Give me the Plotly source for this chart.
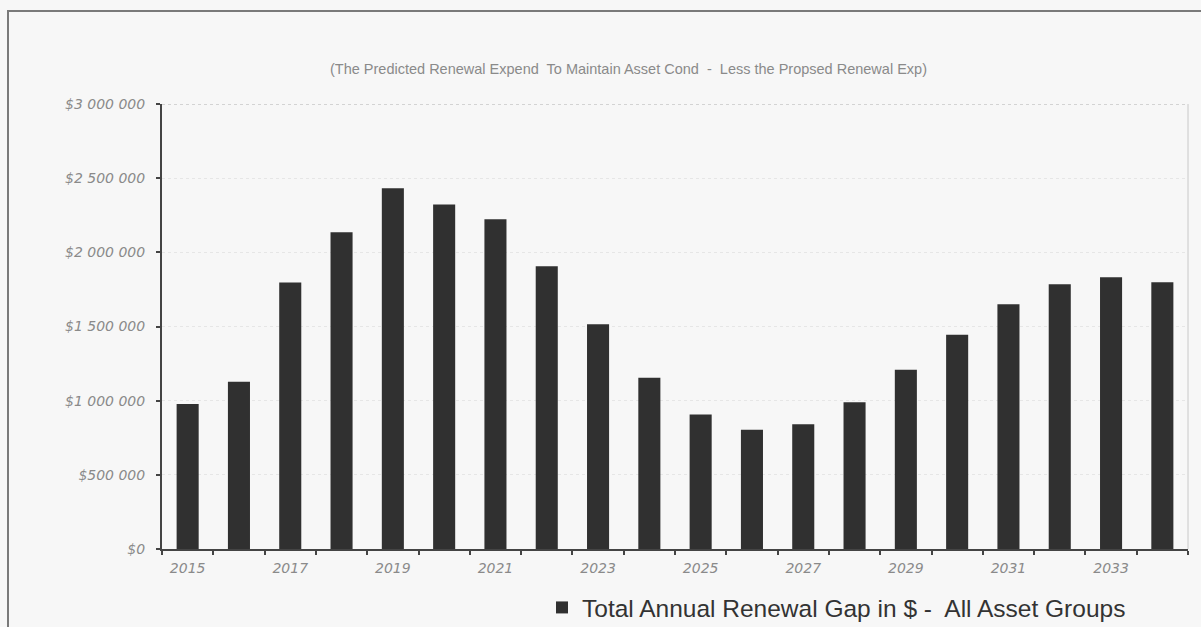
import plotly.graph_objects as go

years = [2015, 2016, 2017, 2018, 2019, 2020, 2021, 2022, 2023, 2024,
         2025, 2026, 2027, 2028, 2029, 2030, 2031, 2032, 2033, 2034]
gap_values = [978000, 1128000, 1796000, 2136000, 2432000, 2322000, 2223000, 1906000, 1515000, 1155000,
              906000, 804000, 841000, 989000, 1209000, 1445000, 1650000, 1784000, 1832000, 1798000]
series_name = "Total Annual Renewal Gap in $ -  All Asset Groups"
subtitle = "(The Predicted Renewal Expend  To Maintain Asset Cond  -  Less the Propsed Renewal Exp)"
y_tick_vals = [0, 500000, 1000000, 1500000, 2000000, 2500000, 3000000]
y_tick_text = ["$0", "$500 000", "$1 000 000", "$1 500 000", "$2 000 000", "$2 500 000", "$3 000 000"]
x_tick_vals = [2015, 2017, 2019, 2021, 2023, 2025, 2027, 2029, 2031, 2033]

W, H = 1201, 627
L, R, T, B = 162, 13, 104, 78
pw, ph = W - L - R, H - T - B

def px_x(px):
    return (px - L) / pw

def px_y(py):
    return (H - B - py) / ph

fig = go.Figure()
fig.add_trace(go.Bar(
    x=years, y=gap_values, name=series_name,
    marker=dict(color="#303030", line=dict(width=0)),
    showlegend=True,
))

tick_font = dict(family="DejaVu Sans", size=14, color="#8a8a8a", style="italic")

fig.update_layout(
    width=W, height=H,
    margin=dict(l=L, r=R, t=T, b=B, autoexpand=False),
    paper_bgcolor="#f7f7f7",
    plot_bgcolor="#f7f7f7",
    bargap=0.57,
    showlegend=True,
    legend=dict(
        orientation="h",
        xref="container", yref="container",
        x=542 / W, xanchor="left",
        y=1 - 585 / H, yanchor="top",
        font=dict(family="Liberation Sans", size=24.5, color="#333333"),
        bgcolor="rgba(0,0,0,0)",
        itemwidth=30,
    ),
    xaxis=dict(
        range=[2014.5, 2034.5],
        tickmode="array", tickvals=x_tick_vals, ticktext=[str(v) for v in x_tick_vals],
        ticks="", tickfont=tick_font, ticklabelstandoff=5,
        showgrid=False, zeroline=False,
        showline=True, linecolor="#444444", linewidth=2,
        minor=dict(tick0=2014.5, dtick=1, ticks="outside", ticklen=4, tickcolor="#444444", tickwidth=2, showgrid=False),
        fixedrange=True,
    ),
    yaxis=dict(
        range=[0, 3000000],
        tickmode="array", tickvals=y_tick_vals, ticktext=y_tick_text,
        ticks="outside", ticklen=4, tickcolor="#444444", tickwidth=2,
        tickfont=tick_font, ticklabelstandoff=8,
        showgrid=True, gridcolor="#e6e6e6", griddash="dot", gridwidth=1,
        zeroline=False,
        showline=True, linecolor="#444444", linewidth=2,
        fixedrange=True,
    ),
    annotations=[dict(
        text=subtitle, xref="paper", yref="paper",
        x=px_x(628), y=px_y(69), xanchor="center", yanchor="middle",
        showarrow=False,
        font=dict(family="Liberation Sans", size=14.5, color="#8a8a8a"),
    )],
    shapes=[
        dict(type="rect", xref="paper", yref="paper",
             x0=px_x(8), x1=px_x(1215), y0=px_y(11), y1=px_y(640),
             line=dict(color="#7a7a7a", width=2), fillcolor="rgba(0,0,0,0)", layer="below"),
        dict(type="line", xref="paper", yref="paper",
             x0=1, x1=1, y0=0, y1=1,
             line=dict(color="#c8c8c8", width=1)),
        dict(type="line", xref="paper", yref="y",
             x0=0, x1=1, y0=y_tick_vals[-1], y1=y_tick_vals[-1],
             line=dict(color="#b0b0b0", width=1, dash="dot")),
    ],
)

fig.write_html("out.html")
